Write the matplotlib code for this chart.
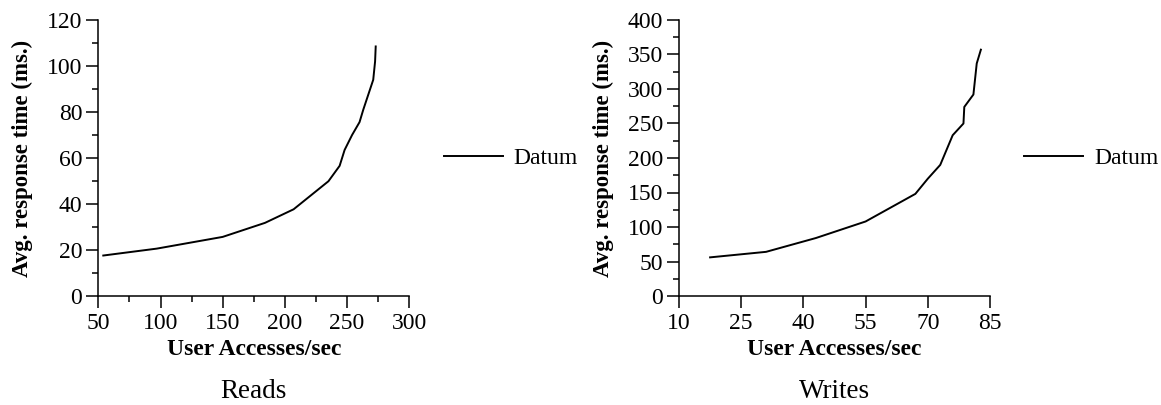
import matplotlib
matplotlib.use("Agg")
import matplotlib.pyplot as plt
from matplotlib.ticker import MultipleLocator

# Reads panel
reads_x = [54, 97, 150, 184, 207, 235, 244, 248, 254, 260, 263, 271, 272.5, 273]
reads_y = [17.6, 20.6, 25.7, 31.8, 37.7, 49.9, 56.6, 63.5, 70, 75.6, 81, 94, 102, 108.5]

# Writes panel
writes_x = [17.5, 31, 43, 55, 61, 67, 70, 73, 76, 78.6, 78.8, 81, 81.8, 82.8]
writes_y = [56, 64, 84, 108, 128, 148, 170, 190, 233, 250, 274, 292, 337, 357]

reads_xticks = [50, 100, 150, 200, 250, 300]
writes_xticks = [10, 25, 40, 55, 70, 85]

SERIES_LABEL = "Datum"
X_LABEL = "User Accesses/sec"
Y_LABEL = "Avg. response time (ms.)"

plt.rcParams["font.family"] = ["Liberation Serif", "DejaVu Serif"]
plt.rcParams["axes.linewidth"] = 1.1

fig = plt.figure(figsize=(11.61, 4.05), dpi=100)
W, H = 1161, 405


def make_axes(left_px):
    return fig.add_axes([left_px / W, 1 - 296 / H, 311 / W, 276 / H])


def style_axes(ax, xlim, xticks, xminor, ylim, ymajor, yminor, title):
    ax.set_xlim(*xlim)
    ax.set_ylim(*ylim)
    ax.spines["top"].set_visible(False)
    ax.spines["right"].set_visible(False)
    ax.set_xticks(xticks)
    if xminor:
        ax.xaxis.set_minor_locator(MultipleLocator(xminor))
    ax.yaxis.set_major_locator(MultipleLocator(ymajor))
    ax.yaxis.set_minor_locator(MultipleLocator(yminor))
    ax.tick_params(which="major", direction="out", length=8.5, width=1.1,
                   labelsize=17)
    ax.tick_params(axis="x", which="major", pad=4)
    ax.tick_params(axis="y", which="major", pad=3)
    ax.tick_params(which="minor", direction="out", length=4.3, width=1.1)
    ax.set_xlabel(X_LABEL, fontsize=17, fontweight="bold", va="top")
    ax.xaxis.set_label_coords(0.5, -0.155)
    ax.set_ylabel(Y_LABEL, fontsize=16.5, fontweight="bold")
    ax.yaxis.set_label_coords(-0.209, 0.5)
    # panel caption under the x label
    ax.text(0.5, -0.37, title, transform=ax.transAxes, ha="center",
            va="baseline", fontsize=19.5)
    ax.legend(loc="center left", bbox_to_anchor=(1.11, 0.5),
              frameon=False, fontsize=17, handlelength=2.5,
              handletextpad=0.45, borderpad=0, borderaxespad=0)


ax1 = make_axes(98.3)
ax1.plot(reads_x, reads_y, color="black", linewidth=1.4, label=SERIES_LABEL)
style_axes(ax1, (50, 300), reads_xticks, 25, (0, 120), 20, 10, "Reads")

ax2 = make_axes(679)
ax2.plot(writes_x, writes_y, color="black", linewidth=1.4, label=SERIES_LABEL)
style_axes(ax2, (10, 85), writes_xticks, None, (0, 400), 50, 25, "Writes")

fig.savefig("out.png", dpi=100)
